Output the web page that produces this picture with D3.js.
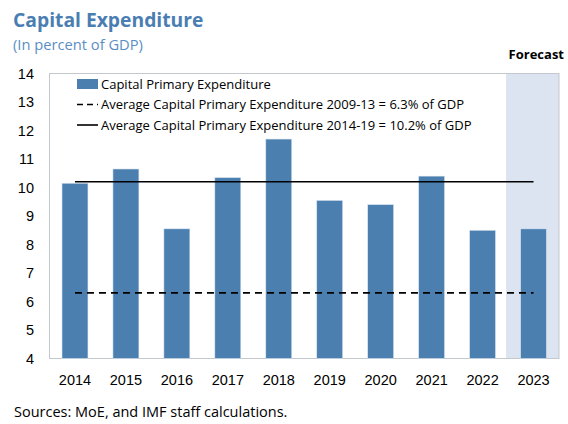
<!DOCTYPE html>
<html>
<head>
<meta charset="utf-8">
<script src="https://cdn.jsdelivr.net/npm/d3@7"></script>
<style>
  body { margin: 0; background: #fff; }
  svg { font-family: "Open Sans", "Noto Sans", sans-serif; }
</style>
</head>
<body>
<svg></svg>
<script>
// Capital expenditure bar chart
const SVG = d3.select('svg');
const SVG_WIDTH = 568;
const SVG_HEIGHT = 424;
const MARGIN = {left: 49.5, right: 9, top: 73.5, bottom: 66};

// Data
const years = ['2014', '2015', '2016', '2017', '2018', '2019', '2020', '2021', '2022', '2023'];
const capitalPrimary = [10.15, 10.65, 8.55, 10.35, 11.7, 9.55, 9.4, 10.4, 8.5, 8.55];
const forecastYears = ['2023'];
const yTicks = [4, 5, 6, 7, 8, 9, 10, 11, 12, 13, 14];
const avg0913 = 6.3;
const avg1419 = 10.2;
const legendLabels = [
  'Capital Primary Expenditure',
  'Average Capital Primary Expenditure 2009-13 = 6.3% of GDP',
  'Average Capital Primary Expenditure 2014-19 = 10.2% of GDP'
];

SVG.attr('width', SVG_WIDTH).attr('height', SVG_HEIGHT);

// Scales
var xScale = d3.scaleBand().domain(years)
  .range([MARGIN.left, SVG_WIDTH - MARGIN.right]).paddingInner(0.49).paddingOuter(0.245);
var yScale = d3.scaleLinear().domain([4, 14])
  .range([SVG_HEIGHT - MARGIN.bottom + 0.5, MARGIN.top]);

var plotLeft = MARGIN.left, plotRight = SVG_WIDTH - MARGIN.right;
var step = xScale.step();

// Forecast shading
forecastYears.forEach(y => {
  var x0 = xScale(y) - xScale.paddingOuter() * step;
  SVG.append('rect')
    .attr('x', x0 - 2).attr('y', yScale(14))
    .attr('width', plotRight - x0 + 2).attr('height', yScale(4) - yScale(14))
    .attr('fill', '#dbe4f0');
});

// Frame
SVG.append('rect')
  .attr('x', plotLeft).attr('y', yScale(14))
  .attr('width', plotRight - plotLeft).attr('height', yScale(4) - yScale(14))
  .attr('fill', 'none').attr('stroke', '#c4c8cf').attr('stroke-width', 1);

// Bars
SVG.selectAll('.bar')
  .data(capitalPrimary)
  .enter()
  .append('rect')
    .attr('class', 'bar')
    .attr('x', (d, i) => xScale(years[i]))
    .attr('y', d => yScale(d))
    .attr('width', xScale.bandwidth())
    .attr('height', d => yScale(4) - yScale(d))
    .attr('fill', '#4a7fb0')
    .attr('stroke', '#dfe8f2')
    .attr('stroke-width', 0.6);

// Average lines
var lineX0 = xScale(years[0]) + xScale.bandwidth() / 2;
var lineX1 = xScale(years[years.length - 1]) + xScale.bandwidth() / 2;
SVG.append('line')
  .attr('x1', lineX0).attr('x2', lineX1)
  .attr('y1', yScale(avg1419)).attr('y2', yScale(avg1419))
  .attr('stroke', '#000').attr('stroke-width', 1.6);
SVG.append('line')
  .attr('x1', lineX0).attr('x2', lineX1)
  .attr('y1', yScale(avg0913)).attr('y2', yScale(avg0913))
  .attr('stroke', '#000').attr('stroke-width', 1.8)
  .attr('stroke-dasharray', '7,5');

// Axes
var yAxis = d3.axisLeft(yScale).tickValues(yTicks).tickSize(0).tickPadding(0);
var gy = SVG.append('g').attr('transform', 'translate(34,0)').call(yAxis);
gy.select('.domain').remove();
gy.selectAll('text').style('font-size', '14.5px').attr('fill', '#000');

var xAxis = d3.axisBottom(xScale).tickSize(0).tickPadding(0);
var gx = SVG.append('g').attr('transform', `translate(0, ${yScale(4) + 16})`).call(xAxis);
gx.select('.domain').remove();
gx.selectAll('text').style('font-size', '14.5px').attr('fill', '#000');

// Legend
var legend = SVG.append('g').attr('transform', 'translate(77, 84)');
legend.append('rect').attr('x', 0).attr('y', -5).attr('width', 21).attr('height', 10).attr('fill', '#4a7fb0');
legend.append('line').attr('x1', 0).attr('x2', 21).attr('y1', 20.5).attr('y2', 20.5)
  .attr('stroke', '#000').attr('stroke-width', 1.6).attr('stroke-dasharray', '6,4');
legend.append('line').attr('x1', 0).attr('x2', 21).attr('y1', 41).attr('y2', 41)
  .attr('stroke', '#000').attr('stroke-width', 1.6);
legend.selectAll('text')
  .data(legendLabels)
  .enter()
  .append('text')
    .attr('x', 24)
    .attr('y', (d, i) => i * 20.5)
    .attr('dy', '0.35em')
    .style('font-size', '13px')
    .text(d => d);

// Titles
SVG.append('text').attr('x', 13).attr('y', 27)
  .style('font-size', '19.3px').style('font-weight', 'bold')
  .attr('fill', '#4a7eb2').text('Capital Expenditure');
SVG.append('text').attr('x', 13).attr('y', 50)
  .style('font-size', '14.7px')
  .attr('fill', '#5b8ec4').text('(In percent of GDP)');
SVG.append('text').attr('x', 564).attr('y', 59)
  .style('text-anchor', 'end').style('font-size', '13px').style('font-weight', 'bold')
  .text('Forecast');
SVG.append('text').attr('x', 14).attr('y', 417)
  .style('font-size', '14.5px')
  .text('Sources: MoE, and IMF staff calculations.');
</script>
</body>
</html>
